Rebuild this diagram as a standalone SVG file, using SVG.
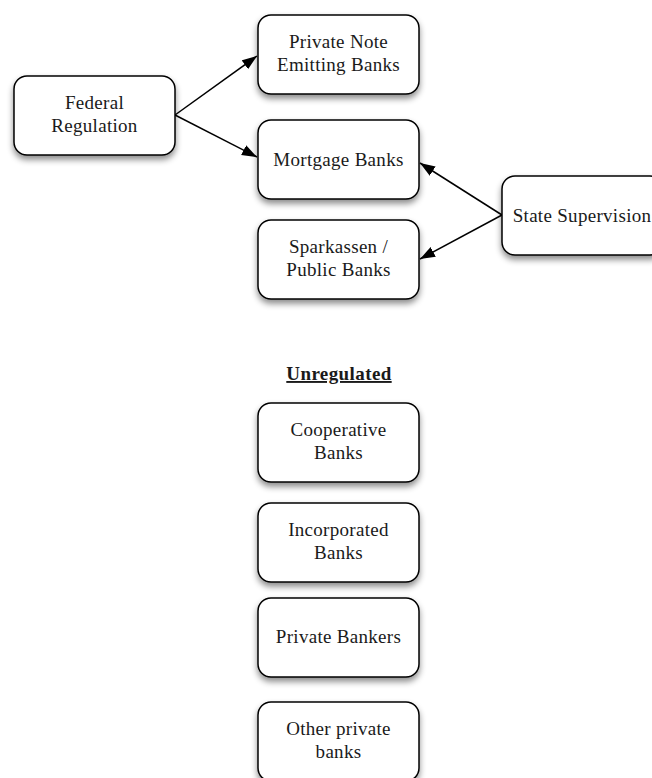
<svg xmlns="http://www.w3.org/2000/svg" width="652" height="778" viewBox="0 0 652 778">
  <defs>
    <filter id="shadow" x="-20%" y="-20%" width="140%" height="150%">
      <feDropShadow dx="0" dy="4" stdDeviation="3" flood-color="#000" flood-opacity="0.45"/>
    </filter>
    <marker id="arrow" markerUnits="userSpaceOnUse" markerWidth="16" markerHeight="12" refX="15" refY="6" orient="auto">
      <path d="M0,0.5 L15,6 L0,11.5 z" fill="#000"/>
    </marker>
  </defs>
  <style>
    .box { fill: #fff; stroke: #000; stroke-width: 1.5; filter: url(#shadow); }
    .lbl { font-family: "Liberation Serif", "Times New Roman", serif; font-size: 19px; letter-spacing: 0.3px; fill: #1a1a1a; text-anchor: middle; }
    .head { font-family: "Liberation Serif", "Times New Roman", serif; font-size: 19px; letter-spacing: 0.4px; font-weight: bold; fill: #1a1a1a; text-anchor: middle; text-decoration: underline; }
    .edge { stroke: #000; stroke-width: 1.5; fill: none; marker-end: url(#arrow); }
  </style>
  <rect width="652" height="778" fill="#fff"/>

  <g id="connectors">
    <line class="edge" x1="175" y1="115" x2="257" y2="56"/>
    <line class="edge" x1="175" y1="115" x2="257" y2="157"/>
    <line class="edge" x1="502" y1="215" x2="420" y2="163"/>
    <line class="edge" x1="502" y1="215" x2="420" y2="259"/>
  </g>

  <g id="federal">
    <rect class="box" x="14" y="76" width="161" height="79" rx="13"/>
    <text class="lbl" x="94.5" y="109">Federal</text>
    <text class="lbl" x="94.5" y="132">Regulation</text>
  </g>

  <g id="private-note">
    <rect class="box" x="258" y="15" width="161" height="79" rx="13"/>
    <text class="lbl" x="338.5" y="48">Private Note</text>
    <text class="lbl" x="338.5" y="71">Emitting Banks</text>
  </g>

  <g id="mortgage">
    <rect class="box" x="258" y="120" width="161" height="79" rx="13"/>
    <text class="lbl" x="338.5" y="166">Mortgage Banks</text>
  </g>

  <g id="sparkassen">
    <rect class="box" x="258" y="220" width="161" height="79" rx="13"/>
    <text class="lbl" x="338.5" y="253">Sparkassen /</text>
    <text class="lbl" x="338.5" y="276">Public Banks</text>
  </g>

  <g id="state">
    <rect class="box" x="502" y="176" width="161" height="79" rx="13"/>
    <text class="lbl" x="582" y="222">State Supervision</text>
  </g>

  <g id="unregulated-heading">
    <text class="head" x="339" y="380">Unregulated</text>
  </g>

  <g id="cooperative">
    <rect class="box" x="258" y="403" width="161" height="79" rx="13"/>
    <text class="lbl" x="338.5" y="436">Cooperative</text>
    <text class="lbl" x="338.5" y="459">Banks</text>
  </g>

  <g id="incorporated">
    <rect class="box" x="258" y="503" width="161" height="79" rx="13"/>
    <text class="lbl" x="338.5" y="536">Incorporated</text>
    <text class="lbl" x="338.5" y="559">Banks</text>
  </g>

  <g id="private-bankers">
    <rect class="box" x="258" y="598" width="161" height="79" rx="13"/>
    <text class="lbl" x="338.5" y="643">Private Bankers</text>
  </g>

  <g id="other-private">
    <rect class="box" x="258" y="702" width="161" height="79" rx="13"/>
    <text class="lbl" x="338.5" y="735">Other private</text>
    <text class="lbl" x="338.5" y="758">banks</text>
  </g>
</svg>
